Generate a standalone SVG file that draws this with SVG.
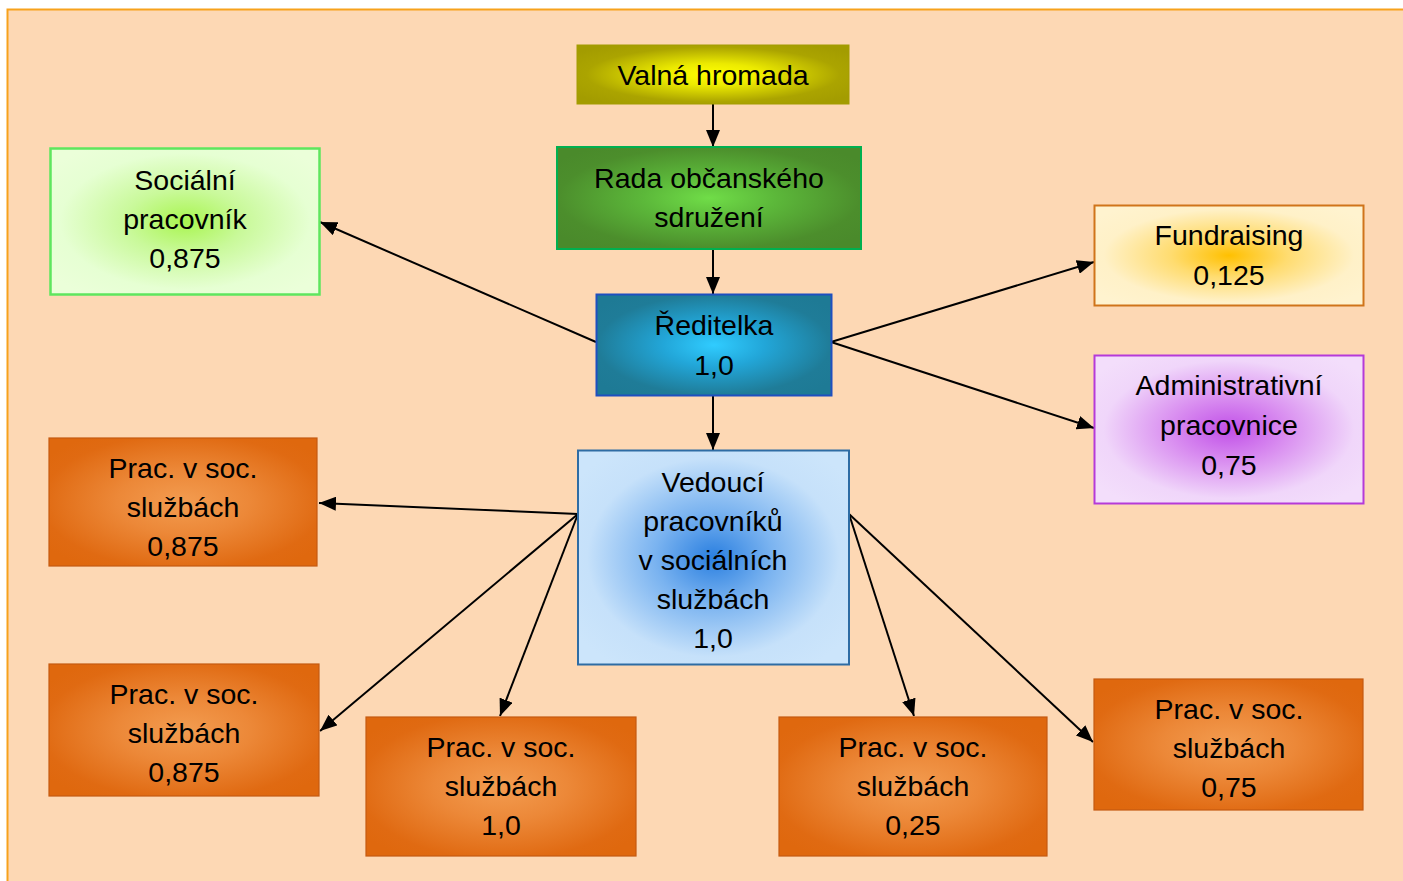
<svg xmlns="http://www.w3.org/2000/svg" width="1403" height="881" viewBox="0 0 1403 881">
<defs>
<radialGradient id="gY" cx="0.5" cy="0.5" r="0.62"><stop offset="0" stop-color="#ffff00"/><stop offset="0.3" stop-color="#ecea00"/><stop offset="0.75" stop-color="#aba400"/><stop offset="1" stop-color="#a39c00"/></radialGradient>
<radialGradient id="gG" cx="0.5" cy="0.5" r="0.62"><stop offset="0" stop-color="#70dd48"/><stop offset="0.35" stop-color="#5cb83a"/><stop offset="0.8" stop-color="#4c8e2c"/><stop offset="1" stop-color="#4a8a2b"/></radialGradient>
<radialGradient id="gLG" cx="0.5" cy="0.5" r="0.62"><stop offset="0" stop-color="#a9f550"/><stop offset="0.35" stop-color="#c9f99a"/><stop offset="0.75" stop-color="#e6ffd3"/><stop offset="1" stop-color="#ebffd9"/></radialGradient>
<radialGradient id="gT" cx="0.5" cy="0.5" r="0.62"><stop offset="0" stop-color="#30ccff"/><stop offset="0.35" stop-color="#22a6d8"/><stop offset="0.8" stop-color="#1f7c98"/><stop offset="1" stop-color="#1e7a95"/></radialGradient>
<radialGradient id="gF" cx="0.5" cy="0.5" r="0.62"><stop offset="0" stop-color="#ffc000"/><stop offset="0.35" stop-color="#ffdc70"/><stop offset="0.75" stop-color="#fff1c8"/><stop offset="1" stop-color="#fff3cf"/></radialGradient>
<radialGradient id="gP" cx="0.5" cy="0.5" r="0.62"><stop offset="0" stop-color="#c150e8"/><stop offset="0.35" stop-color="#d98ef0"/><stop offset="0.75" stop-color="#f0d6fa"/><stop offset="1" stop-color="#f3defb"/></radialGradient>
<radialGradient id="gB" cx="0.5" cy="0.5" r="0.62"><stop offset="0" stop-color="#2a7fe0"/><stop offset="0.35" stop-color="#7ab3f0"/><stop offset="0.75" stop-color="#c6e1fa"/><stop offset="1" stop-color="#cce5fb"/></radialGradient>
<radialGradient id="gO" cx="0.5" cy="0.5" r="0.62"><stop offset="0" stop-color="#f39c50"/><stop offset="0.4" stop-color="#ec8838"/><stop offset="0.85" stop-color="#e06a12"/><stop offset="1" stop-color="#df680e"/></radialGradient>
<marker id="arr" markerUnits="userSpaceOnUse" markerWidth="18" markerHeight="14" refX="17" refY="7" orient="auto"><path d="M0,0 L17,7 L0,14 Z" fill="#000"/></marker>
<style>
text{font-family:"Liberation Sans",Arial,sans-serif;font-size:28.5px;fill:#000;text-anchor:middle}
.con line{stroke:#000;stroke-width:2;marker-end:url(#arr)}
.o{fill:url(#gO);stroke:#c55a11;stroke-width:1.2}
</style>
</defs>
<rect x="7.5" y="9.5" width="1420" height="900" fill="#fdd8b4" stroke="#f7a21c" stroke-width="2"/>
<g class="con">
<line x1="713" y1="104" x2="713" y2="147"/>
<line x1="713" y1="249" x2="713" y2="294"/>
<line x1="713" y1="395" x2="713" y2="450"/>
<line x1="596" y1="342" x2="320" y2="222"/>
<line x1="831" y1="342" x2="1094" y2="262"/>
<line x1="831" y1="342" x2="1094" y2="428"/>
<line x1="578" y1="514" x2="319" y2="503"/>
<line x1="578" y1="514" x2="320" y2="731"/>
<line x1="578" y1="514" x2="500" y2="716"/>
<line x1="849" y1="514" x2="914" y2="716"/>
<line x1="849" y1="514" x2="1093" y2="742"/>
</g>
<g id="valna"><rect x="577" y="45" width="272" height="59" fill="url(#gY)" stroke="#a39c00" stroke-width="1"/><text x="713" y="85">Valná hromada</text></g>
<g id="rada"><rect x="557" y="147" width="304" height="102" fill="url(#gG)" stroke="#00b050" stroke-width="2"/><text x="709" y="188">Rada občanského</text><text x="709" y="227">sdružení</text></g>
<g id="socialni"><rect x="50.5" y="148.5" width="269" height="146" fill="url(#gLG)" stroke="#5ee65e" stroke-width="2.5"/><text x="185" y="190">Sociální</text><text x="185" y="229">pracovník</text><text x="185" y="268">0,875</text></g>
<g id="reditelka"><rect x="596.5" y="294.5" width="235" height="101" fill="url(#gT)" stroke="#1f4fbf" stroke-width="2"/><text x="714" y="335">Ředitelka</text><text x="714" y="375">1,0</text></g>
<g id="fundraising"><rect x="1094.5" y="205.5" width="269" height="100" fill="url(#gF)" stroke="#d0741a" stroke-width="2"/><text x="1229" y="245">Fundraising</text><text x="1229" y="285">0,125</text></g>
<g id="admin"><rect x="1094.5" y="355.5" width="269" height="148" fill="url(#gP)" stroke="#b53ad9" stroke-width="2"/><text x="1229" y="395">Administrativní</text><text x="1229" y="435">pracovnice</text><text x="1229" y="475">0,75</text></g>
<g id="vedouci"><rect x="578" y="450.5" width="271" height="214" fill="url(#gB)" stroke="#2e6ca4" stroke-width="2"/><text x="713" y="492">Vedoucí</text><text x="713" y="531">pracovníků</text><text x="713" y="570">v sociálních</text><text x="713" y="609">službách</text><text x="713" y="648">1,0</text></g>
<g id="prac1"><rect class="o" x="49" y="438" width="268" height="128"/><text x="183" y="478">Prac. v soc.</text><text x="183" y="517">službách</text><text x="183" y="556">0,875</text></g>
<g id="prac2"><rect class="o" x="49" y="664" width="270" height="132"/><text x="184" y="704">Prac. v soc.</text><text x="184" y="743">službách</text><text x="184" y="782">0,875</text></g>
<g id="prac3"><rect class="o" x="366" y="717" width="270" height="139"/><text x="501" y="757">Prac. v soc.</text><text x="501" y="796">službách</text><text x="501" y="835">1,0</text></g>
<g id="prac4"><rect class="o" x="779" y="717" width="268" height="139"/><text x="913" y="757">Prac. v soc.</text><text x="913" y="796">službách</text><text x="913" y="835">0,25</text></g>
<g id="prac5"><rect class="o" x="1094" y="679" width="269" height="131"/><text x="1229" y="719">Prac. v soc.</text><text x="1229" y="758">službách</text><text x="1229" y="797">0,75</text></g>
</svg>
